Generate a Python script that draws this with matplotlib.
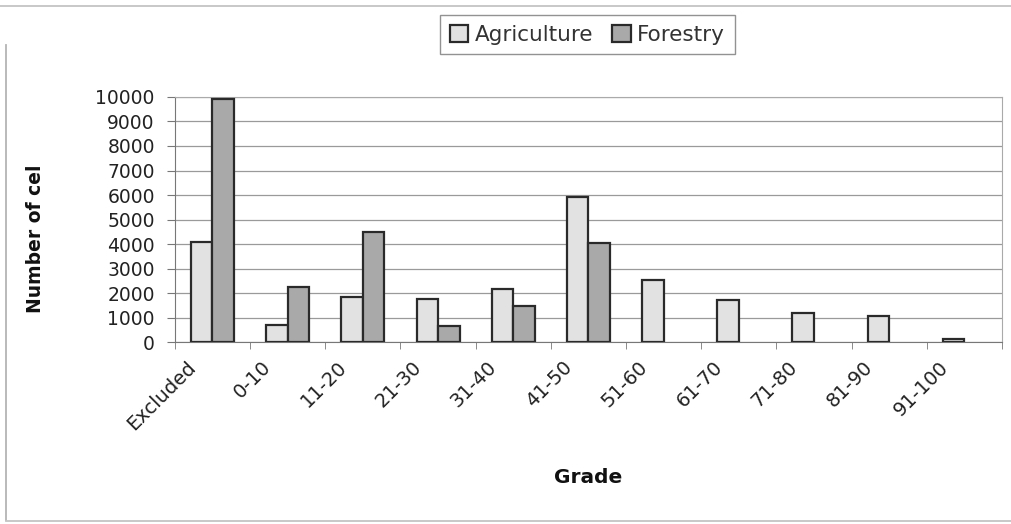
import numpy as np
import matplotlib
matplotlib.use('Agg')
import matplotlib.pyplot as plt
from matplotlib.lines import Line2D
from matplotlib.transforms import ScaledTranslation

plt.rcParams['font.family'] = ['DejaVu Sans']

grades = ['Excluded', '0-10', '11-20', '21-30', '31-40', '41-50',
          '51-60', '61-70', '71-80', '81-90', '91-100']
agriculture = [4100, 710, 1850, 1780, 2160, 5940, 2530, 1710, 1170, 1070, 120]
forestry = [9900, 2230, 4480, 640, 1480, 4030, 0, 0, 0, 0, 0]

fig = plt.figure(figsize=(10.11, 5.24), dpi=100)
ax = fig.add_axes([0.173, 0.347, 0.818, 0.468])

x = np.arange(len(grades))
w = 1 / 3.5
ax.bar(x - w / 2, agriculture, w, color='#e2e2e2', edgecolor='#2a2a2a', linewidth=1.6, label='Agriculture', zorder=3)
# zero bars left out so no flat outline shows
fx = [xi for xi, v in zip(x, forestry) if v > 0]
fv = [v for v in forestry if v > 0]
ax.bar(np.array(fx) + w / 2, fv, w, color='#a9a9a9', edgecolor='#2a2a2a', linewidth=1.6, label='Forestry', zorder=3)

ax.set_xlim(-0.5, len(grades) - 0.5)
ax.set_ylim(0, 10000)
ax.set_yticks(range(0, 10001, 1000))
ax.yaxis.grid(True, color='#9a9a9a', linewidth=0.9, zorder=0)
ax.tick_params(axis='y', labelsize=13.5, length=5.5, color='#777777', pad=9, labelcolor='#222222')

ax.set_xticks(x)
ax.set_xticks(np.arange(len(grades) + 1) - 0.5, minor=True)
ax.set_xticklabels(grades, rotation=45, ha='right', rotation_mode='anchor', fontsize=14, color='#222222')
ax.tick_params(axis='x', which='major', length=0, pad=8)
ax.tick_params(axis='x', which='minor', length=5, color='#777777')
shift = ScaledTranslation(-0.26, -0.04, fig.dpi_scale_trans)
for lab in ax.get_xticklabels():
    lab.set_transform(lab.get_transform() + shift)

for s in ['top', 'right']:
    ax.spines[s].set_color('#aaaaaa')
for s in ['left', 'bottom']:
    ax.spines[s].set_color('#777777')

ax.set_ylabel('Number of cel', fontsize=13.5, fontweight='bold', color='#111111')
ax.yaxis.set_label_coords(-0.157, 0.42)
fig.text(0.582, 0.088, 'Grade', fontsize=14.5, fontweight='bold', ha='center', va='center', color='#111111')

fig.legend(loc='center', bbox_to_anchor=(0.581, 0.934), ncol=2, frameon=True,
           fancybox=False, edgecolor='#777777', fontsize=15.5, handlelength=0.85,
           handleheight=0.85, handletextpad=0.3, columnspacing=0.9, borderpad=0.45,
           labelcolor='#333333')

# faint outer chart frame (top, left, bottom only)
fig.lines.append(Line2D([0, 1], [0.988, 0.988], transform=fig.transFigure, color='#c4c4c4', lw=1.3))
fig.lines.append(Line2D([0.006, 0.006], [0.008, 0.915], transform=fig.transFigure, color='#b4b4b4', lw=1.3))
fig.lines.append(Line2D([0.006, 1], [0.006, 0.006], transform=fig.transFigure, color='#c4c4c4', lw=1.3))

fig.savefig('out.png', dpi=100)
